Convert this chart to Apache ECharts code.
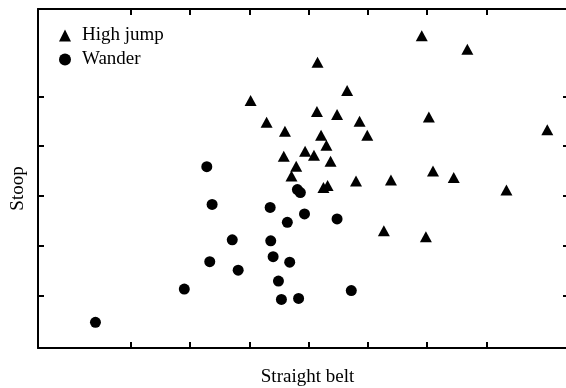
<!DOCTYPE html>
<html>
<head>
<meta charset="utf-8">
<script src="https://cdn.jsdelivr.net/npm/echarts@6/dist/echarts.min.js"></script>
<style>html,body{margin:0;padding:0;background:#fff;overflow:hidden;width:566px;height:388px}#c{width:572px;height:388px}</style>
</head>
<body>
<div id="c"></div>
<script>
var seriesNames = ['High jump', 'Wander'];
var highJump = [
  [6.91,6.22],[7.68,5.95],[5.15,5.69],[5.65,5.12],[4.02,4.92],[5.14,4.70],[5.48,4.64],
  [7.03,4.59],[5.86,4.50],[4.29,4.48],[9.03,4.33],[4.60,4.30],[5.21,4.22],[5.99,4.22],
  [5.30,4.02],[4.94,3.90],[5.09,3.82],[4.58,3.80],[5.37,3.70],[4.79,3.60],[4.71,3.40],
  [7.10,3.50],[7.45,3.37],[5.80,3.30],[6.39,3.32],[5.25,3.17],[5.32,3.21],[8.34,3.12],
  [6.27,2.30],[6.98,2.18]
];
var wander = [
  [1.40,0.46],[2.90,1.13],[3.28,3.59],[3.37,2.83],[3.71,2.12],[3.33,1.68],[3.81,1.51],
  [4.35,2.77],[4.36,2.10],[4.40,1.78],[4.49,1.29],[4.54,0.92],[4.64,2.47],[4.68,1.67],
  [4.81,3.13],[4.86,3.07],[4.93,2.64],[5.48,2.54],[4.83,0.94],[5.72,1.10]
];
var xTicks = [2,3,4,5,6,7,8];
var yTicks = [1,2,3,4,5];
var xName = 'Straight belt';
var yName = 'Stoop';

var FONT = "'Liberation Serif','Times New Roman',serif";
var XMIN = 0.4296, XMAX = 9.3966, YMIN = -0.0553, YMAX = 6.7588;
function xAx(pos){
  return {type:'value', position:pos, min:XMIN, max:XMAX,
    axisLine:{show:true,onZero:false,lineStyle:{color:'#000',width:2}},
    axisTick:{show:true,inside:true,length:6,customValues:xTicks,lineStyle:{color:'#000',width:2}},
    axisLabel:{show:false}, splitLine:{show:false}};
}
function yAx(pos){
  return {type:'value', position:pos, min:YMIN, max:YMAX,
    axisLine:{show:true,onZero:false,lineStyle:{color:'#000',width:2}},
    axisTick:{show:true,inside:true,length:6,customValues:yTicks,lineStyle:{color:'#000',width:2}},
    axisLabel:{show:false}, splitLine:{show:false}};
}
var chart = echarts.init(document.getElementById('c'), null, {renderer:'canvas'});
chart.setOption({
  backgroundColor:'#fff',
  animation:false,
  grid:{left:38, top:9, right:3, bottom:40},
  xAxis:[xAx('bottom'), xAx('top')],
  yAxis:[yAx('left'), yAx('right')],
  legend:{
    orient:'vertical', left:54, top:21, padding:5, itemWidth:12, itemHeight:12, itemGap:5,
    textStyle:{fontFamily:FONT, fontSize:19, color:'#000', lineHeight:19, padding:[0,0,0,6]},
    data:[{name:seriesNames[0], icon:'triangle'},{name:seriesNames[1], icon:'circle'}]
  },
  graphic:[
    {id:'xn', type:'text', x:307.5, y:377, style:{text:xName, font:'19px '+FONT, fill:'#000', align:'center', verticalAlign:'middle'}},
    {id:'yn', type:'text', x:18, y:188.5, rotation:Math.PI/2, style:{text:yName, font:'19px '+FONT, fill:'#000', align:'center', verticalAlign:'middle'}}
  ],
  series:[
    {name:seriesNames[0], type:'scatter', symbol:'triangle', symbolSize:[12,11], data:highJump,
     itemStyle:{color:'#000', opacity:1}, xAxisIndex:0, yAxisIndex:0},
    {name:seriesNames[1], type:'scatter', symbol:'circle', symbolSize:11, data:wander,
     itemStyle:{color:'#000', opacity:1}, xAxisIndex:0, yAxisIndex:0}
  ]
});
</script>
</body>
</html>
